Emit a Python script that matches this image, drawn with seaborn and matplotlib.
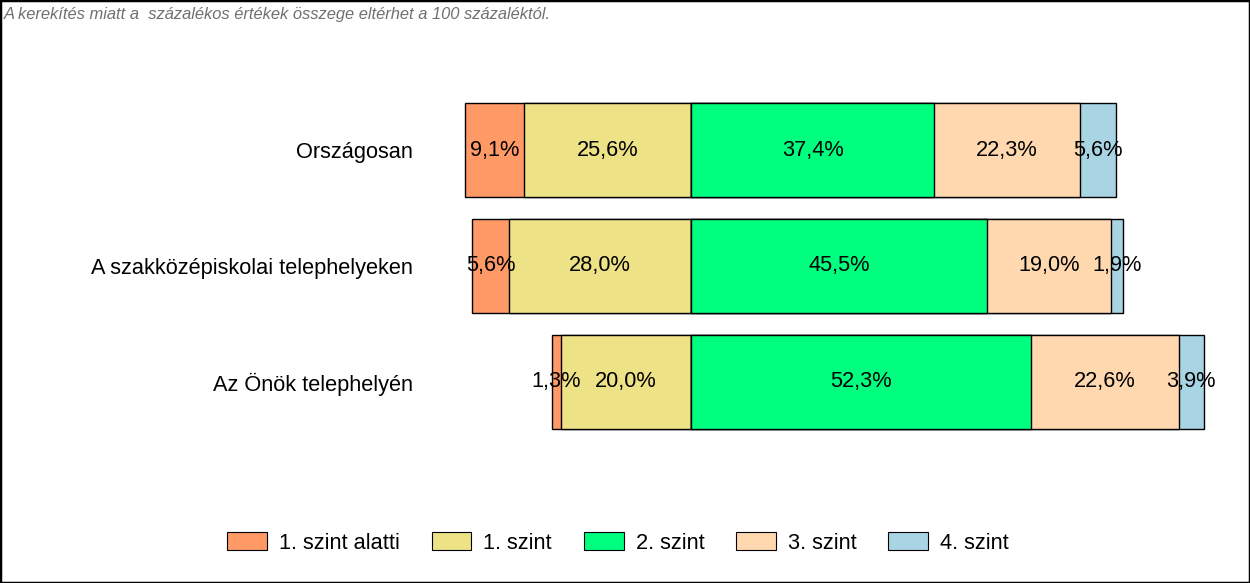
import numpy as np
import pandas as pd
import matplotlib
matplotlib.use("Agg")
import matplotlib.pyplot as plt
from matplotlib.patches import Patch, Rectangle
import seaborn as sns

categories = ["Országosan", "A szakközépiskolai telephelyeken", "Az Önök telephelyén"]
levels = ["1. szint alatti", "1. szint", "2. szint", "3. szint", "4. szint"]
below = [9.1, 5.6, 1.3]
lvl1 = [25.6, 28.0, 20.0]
lvl2 = [37.4, 45.5, 52.3]
lvl3 = [22.3, 19.0, 22.6]
lvl4 = [5.6, 1.9, 3.9]
colors = ["#FF9966", "#EEE287", "#00FF7F", "#FFD8B0", "#A8D4E4"]
note = "A kerekítés miatt a  százalékos értékek összege eltérhet a 100 százaléktól."

sns.set_theme(style="white")
plt.rcParams["font.family"] = ["Liberation Sans", "DejaVu Sans"]
plt.rcParams["text.color"] = "black"
FS = 15.7

fig = plt.figure(figsize=(12.5, 5.83), dpi=100)
ax = fig.add_axes([430 / 1250, (583 - 440) / 583, 800 / 1250, 348 / 583])

b = np.array(below); a = np.array(lvl1); c = np.array(lvl2); d = np.array(lvl3); e = np.array(lvl4)
layers = [
    (-(b + a), colors[0]),
    (-a, colors[1]),
    (c + d + e, colors[4]),
    (c + d, colors[3]),
    (c, colors[2]),
]
for vals, col in layers:
    df = pd.DataFrame({"cat": categories, "val": vals})
    sns.barplot(data=df, x="val", y="cat", orient="h", color=col, width=0.81,
                edgecolor="black", linewidth=1.0, saturation=1, ax=ax, errorbar=None)

segs = [(-(b + a), -a, b), (-a, np.zeros(3), a), (np.zeros(3), c, c), (c, c + d, d), (c + d, c + d + e, e)]
for lo, hi, v in segs:
    for i in range(3):
        ax.text((lo[i] + hi[i]) / 2, i, f"{v[i]:.1f}%".replace(".", ","),
                ha="center", va="center", fontsize=FS, color="black")

ax.set_xlim(-40.1, 82.8)
ax.set_ylim(2.5, -0.5)
ax.set_xlabel(""); ax.set_ylabel("")
ax.set_xticks([])
ax.tick_params(axis="y", length=0, pad=12, labelsize=FS, labelcolor="black")
for s in ax.spines.values():
    s.set_visible(False)

handles = [Patch(facecolor=col, edgecolor="black", linewidth=0.8) for col in colors]
fig.legend(handles, levels, loc="center", bbox_to_anchor=(618 / 1250, 1 - 543 / 583), ncol=5,
           frameon=False, fontsize=FS, handlelength=1.83, handleheight=0.9,
           columnspacing=1.45, handletextpad=0.55, labelcolor="black")

fig.text(4 / 1250, 1 - 14 / 583, note, fontsize=11.9, style="italic", color="#707070",
         ha="left", va="center")
fig.patches.append(Rectangle((0, 0), 1, 1, transform=fig.transFigure, fill=False,
                             edgecolor="black", linewidth=2.5))
fig.savefig("out.png", dpi=100)
